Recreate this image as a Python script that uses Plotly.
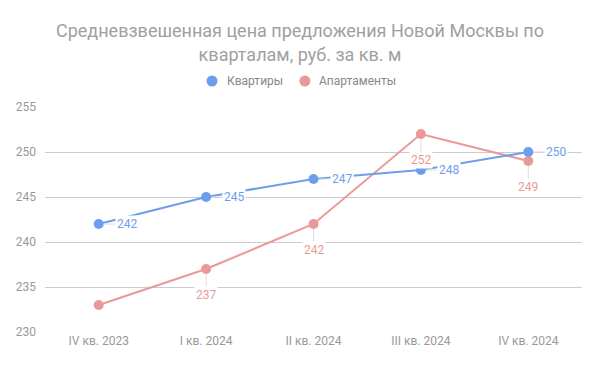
import plotly.graph_objects as go

categories = ["IV кв. 2023", "I кв. 2024", "II кв. 2024", "III кв. 2024", "IV кв. 2024"]
flats = [242, 245, 247, 248, 250]
apartments = [233, 237, 242, 252, 249]
y_ticks = [230, 235, 240, 245, 250, 255]
series_names = ["Квартиры", "Апартаменты"]

BLUE = "#6d9eeb"
RED = "#ea9999"
FONT = "Roboto"

fig = go.Figure()
fig.add_trace(go.Scatter(x=categories, y=apartments, mode="lines+markers", name=series_names[1],
                         line=dict(color=RED, width=2), marker=dict(size=10, color=RED),
                         showlegend=False))
fig.add_trace(go.Scatter(x=categories, y=flats, mode="lines+markers", name=series_names[0],
                         line=dict(color=BLUE, width=2), marker=dict(size=10, color=BLUE),
                         showlegend=False))

annotations = []
for c, v in zip(categories, flats):
    annotations.append(dict(x=c, y=v, text=str(v), showarrow=True, arrowhead=0, arrowwidth=1,
                            arrowcolor="#dddddd", ax=28, ay=0, standoff=5,
                            font=dict(color=BLUE, size=12, family=FONT), bgcolor="white",
                            xanchor="center", yanchor="middle"))
for c, v in zip(categories[1:], apartments[1:]):
    annotations.append(dict(x=c, y=v, text=str(v), showarrow=True, arrowhead=0, arrowwidth=1,
                            arrowcolor="#dddddd", ax=0, ay=26, standoff=5,
                            font=dict(color=RED, size=12, family=FONT), bgcolor="white",
                            xanchor="center", yanchor="middle"))

# custom legend (circle + label), positioned in paper coordinates
legend_y = 1.1156
legend_items = [(series_names[0], BLUE, 0.311, 0.335), (series_names[1], RED, 0.484, 0.506)]
shapes = []
for name, col, cx, tx in legend_items:
    shapes.append(dict(type="circle", xref="paper", yref="paper", xsizemode="pixel", ysizemode="pixel",
                       xanchor=cx, yanchor=legend_y, x0=-5.5, x1=5.5, y0=-5.5, y1=5.5,
                       fillcolor=col, line=dict(width=0)))
    annotations.append(dict(xref="paper", yref="paper", x=tx, y=legend_y, text=name, showarrow=False,
                            xanchor="left", yanchor="middle",
                            font=dict(size=12, color="#888888", family=FONT)))

fig.update_layout(
    width=600, height=371,
    paper_bgcolor="white", plot_bgcolor="white",
    margin=dict(l=45, r=18, t=107, b=39),
    font=dict(family=FONT, color="#888888", size=12),
    title=dict(text="Средневзвешенная цена предложения Новой Москвы по<br>кварталам, руб. за кв. м",
               x=0.5, xanchor="center", y=0.90, yanchor="top",
               font=dict(size=18, color="#a0a0a0", family=FONT)),
    showlegend=False,
    annotations=annotations,
    shapes=shapes,
    xaxis=dict(showgrid=False, zeroline=False, showline=False, ticks="",
               tickfont=dict(size=12, color="#999999"), range=[-0.5, 4.5]),
    yaxis=dict(range=[230, 255], tickvals=y_ticks, gridcolor="#cccccc", gridwidth=1,
               zeroline=False, showline=False, ticks="", ticklabelstandoff=8,
               tickfont=dict(size=12, color="#999999")),
)
fig.write_html("out.html", config={"displayModeBar": False},
               post_script="document.body.style.margin='0';")
